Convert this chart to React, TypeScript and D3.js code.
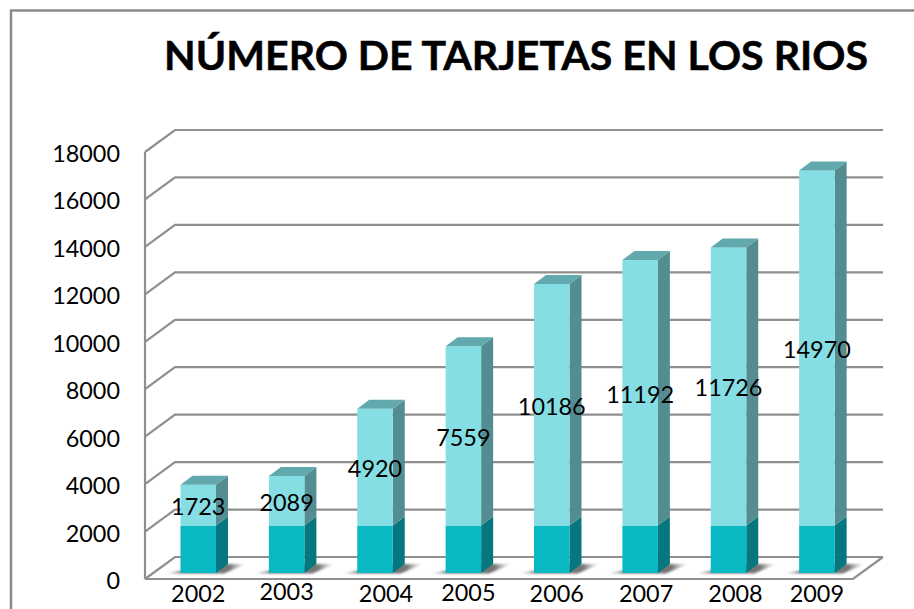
import React from "react";
import * as d3 from "d3";

const years = ["2002", "2003", "2004", "2005", "2006", "2007", "2008", "2009"];
const baseValues = [2000, 2000, 2000, 2000, 2000, 2000, 2000, 2000];
const cardValues = [1723, 2089, 4920, 7559, 10186, 11192, 11726, 14970];
const yTicks = [0, 2000, 4000, 6000, 8000, 10000, 12000, 14000, 16000, 18000];
const yearLabelNudgeY = [0, -2, 0, -1, 0, 0, 0, 0];
const yearLabelNudgeX = [0, 0, 11, 5, 5, 6, 7, 0];
const titleText = "NÚMERO DE TARJETAS EN LOS RIOS";

const FONT = "Lato, Carlito, 'Open Sans', sans-serif";
const W = 914;
const H = 609;
const frontLeft = 145;
const frontRight = 853;
const backLeft = 175;
const backRight = 883;
const GRID = "#8f8f8f";

const y = d3.scaleLinear().domain([0, 18000]).range([579, 152]);
const x = d3.scaleBand<string>().domain(years).range([154, 861]).paddingInner(0.6).paddingOuter(0.3);
const barDX = 12;
const barDY = 9;
const barDrop = 6;

const pts = (a: [number, number][]) => a.map((p) => p.join(",")).join(" ");

export default function App() {
  const yb = (v: number) => y(v) - barDrop;
  const bw = 35.5;
  const stack = d3.stack<any, string>().keys(["base", "cards"])(
    years.map((yr, i) => ({ yr, base: baseValues[i], cards: cardValues[i] }))
  );
  return (
    <svg
      width={W}
      height={H}
      viewBox={`0 0 ${W} ${H}`}
      style={{ position: "fixed", left: 0, top: 0, background: "#fff", fontFamily: FONT }}
    >
      <defs>
        <linearGradient id="shadow" x1="0" x2="1" y1="0" y2="0">
          <stop offset="0" stopColor="#8a8a8a" stopOpacity="0.05" />
          <stop offset="0.22" stopColor="#666" stopOpacity="0.9" />
          <stop offset="0.8" stopColor="#666" stopOpacity="0.9" />
          <stop offset="1" stopColor="#8a8a8a" stopOpacity="0" />
        </linearGradient>
        <filter id="soft" x="-20%" y="-30%" width="140%" height="160%">
          <feGaussianBlur stdDeviation="1" />
        </filter>
      </defs>

      <path d={`M914,10.5 H11 V609`} fill="none" stroke="#8a8a8a" strokeWidth={2.5} />

      <text
        x={164}
        y={70}
        fontSize={41}
        fontWeight={700}
        fill="#000"
        stroke="#000"
        strokeWidth={0.5}
        textLength={704}
        lengthAdjust="spacingAndGlyphs"
      >
        {titleText}
      </text>

      <g fill="none" stroke={GRID} strokeWidth={2.2}>
        {yTicks.map((t) => (
          <polyline
            key={t}
            points={pts([
              [frontLeft, y(t)],
              [backLeft, y(t) - 22],
              [backRight, y(t) - 22],
            ])}
          />
        ))}
        <line x1={frontLeft} x2={frontLeft} y1={y(18000)} y2={y(0)} />
        <polyline
          points={pts([
            [frontLeft, y(0)],
            [frontRight, y(0)],
            [backRight, y(0) - 22],
          ])}
        />
      </g>

      {years.map((yr) => {
        const x0 = x(yr)!;
        return (
          <polygon
            key={yr}
            points={pts([
              [x0 - 16, yb(0) + 0.5],
              [x0 + bw + 8, yb(0) + 0.5],
              [x0 + bw + 30, yb(0) - 9],
              [x0 + bw + 2, yb(0) - 9],
            ])}
            fill="url(#shadow)"
            filter="url(#soft)"
          />
        );
      })}

      {stack.map((series, si) =>
        series.map((d, i) => {
          const x0 = x(years[i])!;
          const x1 = x0 + bw;
          const t = yb(d[1]);
          const b = yb(d[0]);
          return (
            <g key={`${si}-${i}`}>
              <polygon
                points={pts([
                  [x1, t],
                  [x1 + barDX, t - barDY],
                  [x1 + barDX, b - barDY],
                  [x1, b],
                ])}
                fill={si === 0 ? "#06777f" : "#538d91"}
              />
              <rect x={x0} y={t} width={bw} height={b - t} fill={si === 0 ? "#08b8c2" : "#84dee4"} />
              {si === 1 && (
                <polygon
                  points={pts([
                    [x0, t],
                    [x0 + barDX, t - barDY],
                    [x1 + barDX, t - barDY],
                    [x1, t],
                  ])}
                  fill="#62a9ad"
                />
              )}
            </g>
          );
        })
      )}

      <g fontSize={23.4} fill="#000" textAnchor="end">
        {yTicks.map((t) => (
          <text key={t} x={120} y={y(t) + 10}>
            {t}
          </text>
        ))}
      </g>

      <g fontSize={23.4} fill="#000" textAnchor="middle">
        {years.map((yr, i) => (
          <text key={yr} x={x(yr)! + bw / 2 + yearLabelNudgeX[i]} y={602 + yearLabelNudgeY[i]}>
            {yr}
          </text>
        ))}
      </g>

      <g fontSize={23.4} fill="#000" textAnchor="middle">
        {years.map((yr, i) => (
          <text key={yr} x={x(yr)! + bw / 2} y={(yb(baseValues[i]) + yb(baseValues[i] + cardValues[i])) / 2 + 10}>
            {cardValues[i]}
          </text>
        ))}
      </g>
    </svg>
  );
}
